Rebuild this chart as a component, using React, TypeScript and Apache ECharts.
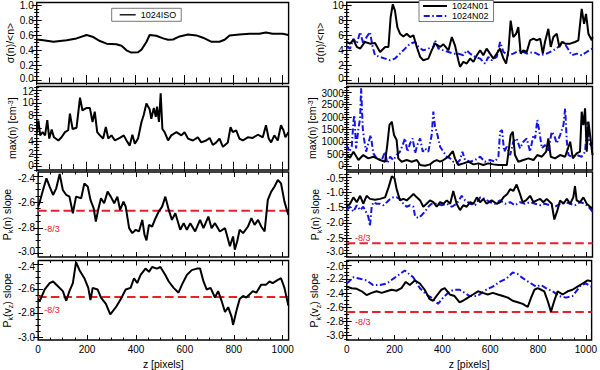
import React, { useEffect, useRef } from "react";
import * as echarts from "echarts";

const FONT = "'Liberation Sans', Arial, Helvetica, sans-serif";
const Z_MAX = 1024;
const X_MAJOR = [0, 200, 400, 600, 800, 1000];
const SLOPE_REF = -8 / 3;

// ---- left column: 1024ISO ----
const isoSigma = [[0,0.54],[27,0.53],[68,0.51],[122,0.53],[162,0.555],[203,0.6],[230,0.573],[257,0.52],[284,0.485],[324,0.476],[345,0.458],[365,0.396],[385,0.366],[412,0.37],[426,0.405],[446,0.507],[459,0.6],[486,0.59],[514,0.555],[534,0.537],[554,0.54],[581,0.581],[615,0.608],[649,0.595],[676,0.564],[709,0.511],[743,0.511],[764,0.537],[784,0.595],[824,0.608],[865,0.617],[905,0.617],[932,0.634],[959,0.617],[1000,0.617],[1023,0.6]];
const isoMax = [[0,5.2],[7,7.2],[14,4.9],[24,5.4],[34,4.9],[43,7.3],[51,4.4],[61,5.8],[70,4.6],[88,4.1],[101,4.6],[115,5.4],[128,5.7],[135,8.3],[146,5.9],[162,6.1],[176,10.8],[186,8.8],[203,9.2],[216,9.2],[227,7.0],[236,8.6],[246,5.4],[257,4.9],[270,4.4],[281,6.2],[291,4.4],[304,4.9],[318,4.1],[338,4.5],[354,4.9],[365,4.1],[378,3.3],[389,5.0],[399,3.6],[412,4.4],[426,7.0],[435,8.1],[446,9.9],[459,9.0],[466,7.5],[476,9.2],[484,7.8],[489,9.4],[497,7.0],[504,11.5],[511,5.9],[520,5.4],[534,4.1],[547,4.9],[568,5.4],[588,4.9],[601,5.4],[615,4.4],[635,4.1],[655,4.6],[669,3.8],[689,4.1],[703,4.5],[716,3.4],[730,3.8],[743,4.4],[757,3.1],[777,3.8],[788,6.2],[797,5.4],[811,5.7],[824,4.4],[838,4.1],[858,4.6],[878,4.5],[899,5.0],[919,4.6],[932,6.5],[943,4.4],[953,3.8],[966,4.9],[980,4.1],[993,6.5],[1003,5.7],[1011,4.6],[1023,5.4]];
const isoPkn = [[0,-2.634],[7,-2.595],[20,-2.504],[34,-2.413],[47,-2.478],[61,-2.543],[74,-2.491],[88,-2.379],[101,-2.504],[115,-2.543],[128,-2.556],[142,-2.686],[155,-2.556],[176,-2.569],[189,-2.452],[203,-2.478],[214,-2.582],[227,-2.647],[236,-2.751],[246,-2.655],[257,-2.569],[270,-2.608],[284,-2.517],[297,-2.556],[311,-2.608],[324,-2.556],[335,-2.66],[349,-2.595],[358,-2.634],[372,-2.803],[385,-2.842],[399,-2.816],[412,-2.829],[426,-2.738],[435,-2.855],[443,-2.899],[453,-2.777],[466,-2.79],[480,-2.725],[493,-2.673],[507,-2.634],[520,-2.556],[534,-2.66],[547,-2.738],[561,-2.686],[581,-2.816],[595,-2.764],[608,-2.816],[622,-2.764],[642,-2.829],[662,-2.738],[676,-2.803],[696,-2.712],[709,-2.803],[723,-2.764],[743,-2.829],[764,-2.803],[777,-2.894],[784,-2.945],[797,-2.868],[804,-2.971],[814,-2.906],[824,-2.816],[838,-2.842],[858,-2.79],[872,-2.725],[885,-2.777],[899,-2.738],[912,-2.79],[926,-2.829],[939,-2.582],[953,-2.517],[966,-2.478],[980,-2.426],[993,-2.452],[1007,-2.595],[1023,-2.699]];
const isoPkv = [[0,-2.685],[7,-2.699],[27,-2.605],[47,-2.552],[61,-2.539],[81,-2.579],[101,-2.619],[115,-2.699],[128,-2.619],[142,-2.552],[155,-2.379],[169,-2.445],[189,-2.512],[205,-2.592],[214,-2.693],[223,-2.592],[243,-2.605],[257,-2.672],[277,-2.725],[295,-2.811],[318,-2.752],[338,-2.685],[358,-2.605],[378,-2.592],[392,-2.512],[405,-2.552],[419,-2.485],[439,-2.432],[453,-2.459],[466,-2.419],[486,-2.432],[500,-2.419],[520,-2.485],[534,-2.539],[554,-2.592],[574,-2.632],[588,-2.565],[608,-2.485],[628,-2.445],[649,-2.432],[662,-2.432],[676,-2.539],[689,-2.605],[705,-2.592],[723,-2.672],[736,-2.619],[750,-2.699],[764,-2.792],[777,-2.752],[791,-2.832],[797,-2.899],[811,-2.779],[824,-2.685],[838,-2.659],[851,-2.672],[865,-2.645],[878,-2.619],[892,-2.632],[912,-2.565],[932,-2.565],[946,-2.539],[959,-2.552],[980,-2.525],[993,-2.512],[1007,-2.592],[1023,-2.739]];

// ---- right column: 1024N01 (black) and 1024N02 (blue) ----
const n01Sigma = [[0,5.07],[14,4.85],[28,5.37],[42,4.41],[56,4.19],[76,5.07],[97,4.85],[118,4.93],[139,3.74],[160,4.41],[174,4.41],[183,8.37],[192,10.1],[201,9.25],[211,7.05],[222,6.17],[236,5.81],[250,6.17],[264,5.73],[278,5.95],[292,4.41],[306,3.08],[319,2.64],[340,2.86],[354,3.96],[368,4.85],[389,4.41],[403,4.76],[424,3.96],[438,5.73],[451,4.63],[465,2.64],[472,1.76],[486,2.42],[500,2.2],[514,2.86],[528,2.42],[542,3.3],[556,3.96],[569,3.3],[583,4.19],[597,3.52],[611,2.86],[625,3.52],[639,4.19],[653,2.86],[664,2.2],[674,3.96],[683,7.93],[694,5.73],[706,6.17],[715,7.05],[725,3.52],[736,3.96],[750,3.74],[764,5.29],[778,5.51],[792,5.29],[806,5.51],[817,3.52],[826,5.07],[840,6.83],[850,4.41],[861,5.73],[875,6.17],[886,4.41],[896,5.07],[910,4.85],[931,4.85],[951,5.07],[965,5.29],[979,9.47],[989,7.49],[997,8.81],[1007,6.17],[1021,5.29],[1024,5.73]];
const n02Sigma = [[0,4.41],[14,4.19],[28,5.51],[42,4.85],[56,6.39],[69,4.85],[83,5.73],[97,6.39],[108,4.41],[118,3.3],[139,3.08],[160,2.86],[181,2.64],[201,2.86],[222,3.52],[243,4.19],[264,4.85],[285,5.07],[299,4.41],[319,3.96],[340,4.19],[361,4.41],[368,5.29],[382,4.19],[403,3.96],[424,3.74],[444,3.52],[465,3.52],[486,3.3],[500,3.96],[514,3.52],[535,3.08],[556,2.86],[576,2.2],[590,3.08],[604,2.64],[625,3.08],[639,5.07],[653,3.74],[674,3.3],[694,3.52],[722,3.96],[750,3.52],[778,3.74],[806,3.3],[833,3.52],[861,3.96],[882,4.41],[903,5.07],[917,4.41],[938,3.3],[958,3.52],[979,3.3],[1000,3.74],[1024,4.19]];
const n01Max = [[0,470],[14,363],[28,605],[49,269],[69,470],[90,336],[111,403],[139,269],[160,202],[169,874],[178,1680],[188,1814],[197,1277],[208,1075],[215,336],[229,202],[250,269],[271,202],[292,269],[306,67],[326,40],[347,94],[361,202],[375,269],[389,202],[403,269],[424,403],[442,632],[451,336],[465,67],[486,134],[507,202],[528,94],[549,134],[569,67],[590,134],[611,94],[632,67],[653,67],[667,67],[683,1277],[692,1411],[701,470],[715,202],[736,269],[757,336],[778,269],[794,470],[813,403],[831,605],[840,1142],[850,403],[868,336],[889,470],[910,403],[931,1008],[942,336],[958,538],[972,605],[979,2218],[986,1680],[993,2352],[1000,605],[1007,1814],[1014,1277],[1024,470]];
const n02Max = [[0,874],[11,605],[21,806],[28,1814],[32,2083],[39,739],[49,1546],[56,1949],[60,3158],[67,1546],[72,1142],[81,605],[90,941],[100,1277],[111,538],[125,336],[146,269],[160,605],[169,134],[181,403],[194,269],[208,470],[222,605],[233,874],[243,1142],[253,605],[264,941],[275,1142],[285,538],[294,874],[306,1142],[317,605],[326,739],[340,605],[354,1277],[361,2218],[368,1613],[375,1411],[389,806],[403,605],[417,403],[431,336],[444,202],[458,134],[472,269],[482,605],[493,269],[514,202],[535,269],[556,403],[576,202],[597,269],[618,202],[632,403],[639,1411],[647,1478],[656,605],[667,806],[681,470],[694,1008],[708,1142],[722,739],[736,1008],[750,1142],[764,605],[778,1277],[785,1142],[794,1882],[803,1411],[813,739],[826,874],[840,605],[854,1411],[864,1277],[875,941],[889,1277],[903,1680],[910,2352],[917,1008],[924,470],[938,403],[958,470],[979,403],[993,605],[1003,1814],[1011,941],[1024,806]];
const n01Pkn = [[0,-1.47],[14,-1.37],[28,-1.16],[42,-1.32],[56,-1.11],[69,-1.37],[83,-1.11],[97,-1.21],[118,-1.24],[139,-1.21],[160,-1.16],[174,-0.84],[188,-0.47],[199,-0.53],[208,-0.89],[222,-1.26],[236,-1.21],[250,-1.26],[264,-1.16],[278,-1.05],[292,-1.16],[306,-1.26],[319,-1.47],[333,-1.37],[347,-1.26],[361,-1.32],[375,-1.47],[389,-1.32],[403,-1.37],[417,-1.26],[431,-1.37],[444,-0.95],[458,-1.37],[472,-1.58],[486,-1.42],[500,-1.47],[514,-1.32],[528,-1.37],[542,-1.16],[556,-1.32],[569,-1.21],[583,-1.37],[604,-1.26],[625,-1.37],[639,-1.32],[653,-1.16],[669,-1.05],[681,-0.89],[694,-0.95],[708,-0.74],[722,-1.05],[733,-1.32],[747,-1.26],[764,-1.11],[778,-1.32],[792,-1.26],[806,-1.21],[819,-1.32],[833,-1.21],[854,-1.37],[865,-1.89],[878,-1.58],[889,-1.26],[903,-1.37],[917,-1.21],[931,-1.37],[944,-1.16],[951,-0.79],[958,-1.26],[972,-1.32],[986,-1.16],[1000,-1.37],[1014,-1.47],[1024,-1.53]];
const n02Pkn = [[0,-1.58],[14,-1.47],[28,-1.63],[42,-1.42],[56,-1.58],[69,-1.47],[83,-1.68],[90,-1.79],[97,-2.11],[104,-1.47],[111,-1.32],[125,-1.37],[139,-1.37],[153,-1.42],[167,-1.32],[181,-1.21],[194,-1.16],[208,-1.16],[222,-1.21],[236,-1.37],[250,-1.47],[264,-1.42],[278,-1.47],[285,-1.79],[299,-1.84],[313,-1.74],[326,-1.63],[340,-1.47],[354,-1.37],[375,-1.37],[396,-1.42],[417,-1.37],[438,-1.47],[458,-1.37],[479,-1.11],[493,-1.26],[514,-1.37],[535,-1.42],[556,-1.16],[576,-1.21],[597,-1.32],[618,-1.37],[639,-1.26],[660,-1.37],[681,-1.32],[701,-1.42],[722,-1.32],[743,-1.37],[764,-1.32],[785,-1.37],[806,-1.42],[826,-1.37],[847,-1.42],[868,-1.47],[889,-1.37],[910,-1.32],[931,-1.37],[951,-1.42],[972,-1.32],[993,-1.37],[1007,-1.47],[1024,-1.63]];
const n01Pkv = [[0,-2.308],[21,-2.33],[42,-2.339],[63,-2.374],[83,-2.427],[104,-2.396],[125,-2.374],[146,-2.396],[167,-2.374],[188,-2.352],[208,-2.366],[229,-2.33],[247,-2.242],[264,-2.286],[285,-2.22],[306,-2.264],[326,-2.352],[347,-2.485],[361,-2.507],[375,-2.441],[396,-2.352],[410,-2.33],[431,-2.419],[451,-2.441],[472,-2.529],[486,-2.507],[507,-2.463],[528,-2.419],[549,-2.374],[569,-2.396],[590,-2.419],[611,-2.396],[632,-2.419],[653,-2.441],[674,-2.463],[694,-2.507],[715,-2.529],[736,-2.551],[757,-2.595],[771,-2.463],[785,-2.352],[799,-2.33],[813,-2.352],[826,-2.374],[840,-2.507],[854,-2.66],[868,-2.507],[882,-2.374],[903,-2.419],[924,-2.374],[944,-2.352],[965,-2.308],[986,-2.264],[1007,-2.22],[1024,-2.233]];
const n02Pkv = [[0,-2.264],[28,-2.176],[56,-2.198],[83,-2.22],[111,-2.286],[139,-2.286],[167,-2.264],[194,-2.198],[222,-2.132],[243,-2.08],[257,-2.12],[278,-2.176],[306,-2.33],[333,-2.419],[354,-2.463],[382,-2.551],[403,-2.463],[431,-2.374],[451,-2.352],[472,-2.352],[493,-2.396],[514,-2.441],[535,-2.441],[556,-2.419],[583,-2.352],[611,-2.308],[639,-2.242],[667,-2.198],[694,-2.11],[715,-2.13],[729,-2.17],[750,-2.22],[771,-2.264],[792,-2.308],[813,-2.286],[833,-2.33],[861,-2.374],[889,-2.441],[917,-2.463],[944,-2.441],[965,-2.352],[979,-2.286],[1000,-2.264],[1024,-2.308]];

// tick label sets
const ySigmaIso = [0, 0.2, 0.4, 0.6, 0.8, 1.0];
const yMaxIso = [0, 2, 4, 6, 8, 10, 12];
const ySlopeIso = [-3.0, -2.8, -2.6, -2.4];
const ySigmaN = [0, 2, 4, 6, 8, 10];
const yMaxN = [0, 500, 1000, 1500, 2000, 2500, 3000];
const ySlopeNn = [-3.0, -2.5, -2.0, -1.5, -1.0, -0.5];
const ySlopeNv = [-3.0, -2.8, -2.6, -2.4, -2.2, -2.0];

const COLS = [{ left: 36.7, width: 251.9 }, { left: 346.7, width: 245.8 }];
const ROWS = [{ top: 1.5, height: 82 }, { top: 86.5, height: 83.5 }, { top: 172, height: 85 }, { top: 260.5, height: 84 }];

const BLACK = "#000000";
const BLUE = "#1414e6";
const RED = "#e8202a";
const DASHDOT = [6, 2.5, 1.5, 2.5];

const ICON_SOLID = "path://M0,0H24V2H0Z";
const ICON_DASHDOT = "path://M0,0h6v2h-6z M8.5,0h1.5v2h-1.5z M12.5,0h6v2h-6z M21,0h1.5v2h-1.5z";

const RICH = {
  m: { fontSize: 10.5, fontFamily: FONT, color: "#000", lineHeight: 13, verticalAlign: "top" },
  s: { fontSize: 7, fontFamily: FONT, color: "#000", lineHeight: 7, verticalAlign: "bottom" },
  p: { fontSize: 7, fontFamily: FONT, color: "#000", lineHeight: 7, verticalAlign: "top" },
};

const TICK_FONT = 10;
const LABEL_RICH = {
  n: { fontSize: TICK_FONT, fontFamily: FONT, color: "#000" },
  lo: { fontSize: TICK_FONT, fontFamily: FONT, color: "#000", padding: [0, 0, 3, 0] },
  hi: { fontSize: TICK_FONT, fontFamily: FONT, color: "#000", padding: [3, 0, 0, 0] },
};

type Panel = {
  col: number; row: number; min: number; max: number; ticks: number[]; minor: number; dec: number;
  name: string; gap: number; lines: { name: string; data: number[][]; color: string; dash?: number[] }[];
  refLabel?: number[];
};

const panels: Panel[] = [
  { col: 0, row: 0, min: -0.046, max: 1.033, ticks: ySigmaIso, minor: 0.05, dec: 1, name: "{m|σ(n)/<n>}", gap: 17, lines: [{ name: "1024ISO", data: isoSigma, color: BLACK }] },
  { col: 0, row: 1, min: -0.52, max: 12.55, ticks: yMaxIso, minor: 0.5, dec: 0, name: "{m|max(n) [cm}{p|-3}{m|]}", gap: 17, lines: [{ name: "1024ISO", data: isoMax, color: BLACK }] },
  { col: 0, row: 2, min: -3.029, max: -2.363, ticks: ySlopeIso, minor: 0.05, dec: 1, name: "{m|P}{s|k}{m|(n) slope}", gap: 22, lines: [{ name: "1024ISO", data: isoPkn, color: BLACK }], refLabel: [25, -2.81] },
  { col: 0, row: 3, min: -3.024, max: -2.365, ticks: ySlopeIso, minor: 0.05, dec: 1, name: "{m|P}{s|k}{m|(v}{s|z}{m|) slope}", gap: 22, lines: [{ name: "1024ISO", data: isoPkv, color: BLACK }], refLabel: [25, -2.775] },
  { col: 1, row: 0, min: -0.46, max: 10.37, ticks: ySigmaN, minor: 0.5, dec: 0, name: "{m|σ(n)/<n>}", gap: 19, lines: [{ name: "1024N01", data: n01Sigma, color: BLACK }, { name: "1024N02", data: n02Sigma, color: BLUE, dash: DASHDOT }] },
  { col: 1, row: 1, min: -133, max: 3234, ticks: yMaxN, minor: 100, dec: 0, name: "{m|max(n) [cm}{p|-3}{m|]}", gap: 25, lines: [{ name: "1024N02", data: n02Max, color: BLUE, dash: DASHDOT }, { name: "1024N01", data: n01Max, color: BLACK }] },
  { col: 1, row: 2, min: -3.122, max: -0.326, ticks: ySlopeNn, minor: 0.1, dec: 1, name: "{m|P}{s|k}{m|(n) slope}", gap: 24, lines: [{ name: "1024N02", data: n02Pkn, color: BLUE, dash: DASHDOT }, { name: "1024N01", data: n01Pkn, color: BLACK }], refLabel: [35, -2.5] },
  { col: 1, row: 3, min: -3.06, max: -1.94, ticks: ySlopeNv, minor: 0.05, dec: 1, name: "{m|P}{s|k}{m|(v}{s|z}{m|) slope}", gap: 25, lines: [{ name: "1024N02", data: n02Pkv, color: BLUE, dash: DASHDOT }, { name: "1024N01", data: n01Pkv, color: BLACK }], refLabel: [35, -2.8] },
];

function minorTicks(min: number, max: number, step: number, major: number[]) {
  const out: number[] = [];
  const start = Math.ceil(min / step - 1e-9);
  const end = Math.floor(max / step + 1e-9);
  for (let i = start; i <= end; i++) {
    const v = Math.round(i * step * 1e6) / 1e6;
    if (!major.some((m) => Math.abs(m - v) < step / 10)) out.push(v);
  }
  return out;
}

const labelStyle = { fontSize: TICK_FONT, color: "#000", fontFamily: FONT };

function buildOption() {
  const grid: any[] = [];
  const xAxis: any[] = [];
  const yAxis: any[] = [];
  const series: any[] = [];
  panels.forEach((p, g) => {
    const c = COLS[p.col];
    const r = ROWS[p.row];
    grid.push({ left: c.left, top: r.top, width: c.width, height: r.height, show: true, borderColor: "#000", borderWidth: 1.4, backgroundColor: "transparent" });
    const isBottom = p.row === 3;
    const xMinor = minorTicks(0, Z_MAX, 50, X_MAJOR);
    const yMinor = minorTicks(p.min, p.max, p.minor, p.ticks);
    const common = { type: "value", gridIndex: g, splitLine: { show: false }, axisLine: { show: false } };
    const tick = (vals: number[], len: number) => ({ show: true, inside: true, length: len, customValues: vals, lineStyle: { color: "#000", width: 1 } });
    const lowest = Math.min(...p.ticks);
    const highest = Math.max(...p.ticks);
    const fmtY = (v: number) => {
      const s = v.toFixed(p.dec);
      if (Math.abs(v - lowest) < 1e-9 && p.row < 3) return "{lo|" + s + "}";
      if (Math.abs(v - highest) < 1e-9 && p.row > 0) return "{hi|" + s + "}";
      return "{n|" + s + "}";
    };
    ["bottom", "top"].forEach((pos) => {
      xAxis.push({ ...common, position: pos, min: 0, max: Z_MAX, axisTick: tick(X_MAJOR, 5),
        axisLabel: { show: pos === "bottom" && isBottom, customValues: X_MAJOR, margin: 4, formatter: (v: number) => String(v), ...labelStyle },
        name: pos === "bottom" && isBottom ? "z [pixels]" : "", nameLocation: "middle", nameGap: 18, nameTextStyle: { ...labelStyle, fontSize: 10.5 } });
      xAxis.push({ ...common, position: pos, min: 0, max: Z_MAX, axisTick: tick(xMinor, 2.5), axisLabel: { show: false } });
    });
    ["left", "right"].forEach((pos) => {
      yAxis.push({ ...common, position: pos, min: p.min, max: p.max, axisTick: tick(p.ticks, 5),
        axisLabel: { show: pos === "left", customValues: p.ticks, margin: 3, formatter: fmtY, rich: LABEL_RICH, ...labelStyle },
        name: pos === "left" ? p.name : "", nameLocation: "middle", nameGap: p.gap, nameTextStyle: { rich: RICH } });
      yAxis.push({ ...common, position: pos, min: p.min, max: p.max, axisTick: tick(yMinor, 2.5), axisLabel: { show: false } });
    });
    const xi = g * 4;
    const yi = g * 4;
    if (p.refLabel) {
      series.push({ name: "ref" + g, type: "line", xAxisIndex: xi, yAxisIndex: yi, data: [[0, SLOPE_REF], [Z_MAX, SLOPE_REF]], symbol: "none", lineStyle: { color: RED, width: 2, type: [8.5, 4.2] }, silent: true, z: 3 });
    }
    p.lines.forEach((l) => {
      series.push({ name: l.name, type: "line", xAxisIndex: xi, yAxisIndex: yi, data: l.data, symbol: "none", showSymbol: false,
        lineStyle: { color: l.color, width: 2, type: l.dash ? l.dash : "solid" }, itemStyle: { color: l.color }, z: l.color === BLACK ? 4 : 2 });
    });
  });
  const legendCommon = { selectedMode: false, borderColor: "#555", borderWidth: 0.8, backgroundColor: "#fff", textStyle: { fontSize: 9, color: "#000", fontFamily: FONT }, z: 10 };
  return {
    animation: false,
    textStyle: { fontFamily: FONT },
    grid, xAxis, yAxis, series,
    legend: [
      { ...legendCommon, data: [{ name: "1024ISO", icon: ICON_SOLID }], left: 111.7, top: 8.3, orient: "horizontal", itemWidth: 16, itemHeight: 2, padding: [2, 5, 2, 8] },
      { ...legendCommon, data: [{ name: "1024N01", icon: ICON_SOLID }, { name: "1024N02", icon: ICON_DASHDOT }], left: 419, top: 0.5, orient: "vertical", itemWidth: 24, itemHeight: 2, itemGap: 1, padding: [1, 5, 1, 4] },
    ],
  };
}

export default function App() {
  const ref = useRef<HTMLDivElement>(null);
  useEffect(() => {
    if (!ref.current) return;
    const chart = echarts.init(ref.current, undefined, { renderer: "svg" });
    chart.setOption(buildOption() as any);
    const graphic: any[] = [];
    panels.forEach((p, g) => {
      if (!p.refLabel) return;
      const pt = chart.convertToPixel({ xAxisIndex: g * 4, yAxisIndex: g * 4 } as any, p.refLabel) as number[];
      graphic.push({ type: "text", x: pt[0], y: pt[1], style: { text: "-8/3", fill: RED, fontSize: 9, fontFamily: FONT, align: "left", verticalAlign: "middle" }, z: 20 });
    });
    chart.setOption({ graphic });
    return () => chart.dispose();
  }, []);
  return <div ref={ref} style={{ position: "absolute", left: 0, top: 0, width: 600, height: 370 }} />;
}
